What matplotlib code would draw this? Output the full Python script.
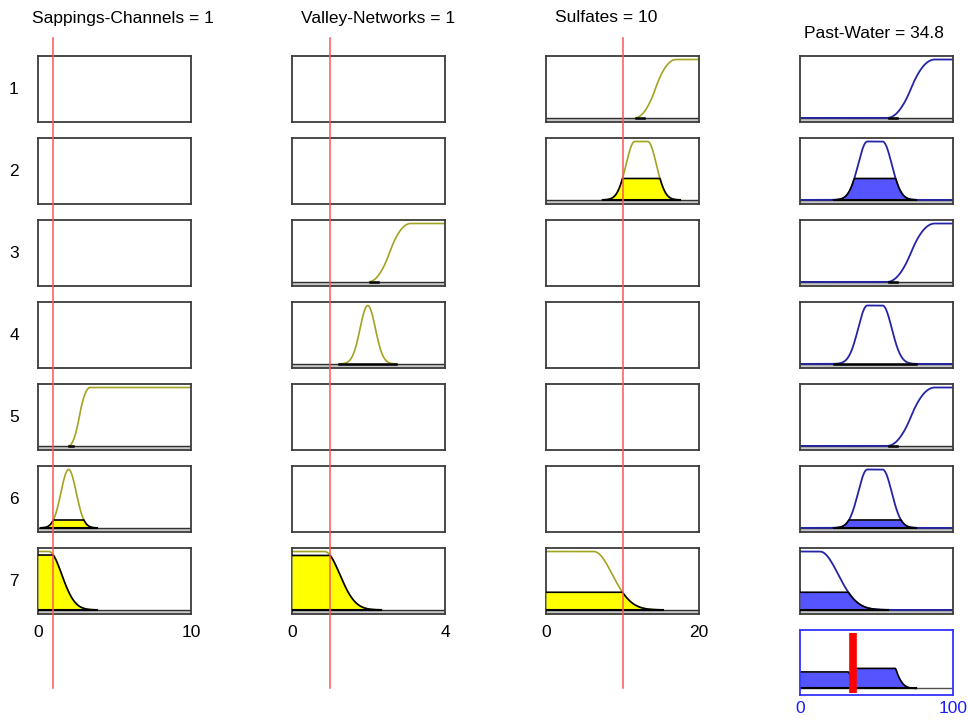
import numpy as np
import matplotlib
matplotlib.use('Agg')
import matplotlib.pyplot as plt
from matplotlib.lines import Line2D
from matplotlib.transforms import blended_transform_factory

plt.rcParams['font.family'] = ['Liberation Sans', 'DejaVu Sans']

# fuzzy system
input_names = ['Sappings-Channels', 'Valley-Networks', 'Sulfates']
input_values = [1, 1, 10]
input_ranges = [(0, 10), (0, 4), (0, 20)]
output_name = 'Past-Water'
output_value = 34.8
output_range = (0, 100)

# membership functions per rule (None = input not used in that rule)
# ('smf', a, b) or ('gauss2', sigma1, c1, sigma2, c2)
sapping_mfs = [None, None, None, None,
               ('smf', 2.0, 3.4),
               ('gauss2', 0.5, 2.0, 0.5, 2.0),
               ('gauss2', 0.85, 0.0, 0.85, 0.7)]
valley_mfs = [None, None,
              ('smf', 2.0, 3.1),
              ('gauss2', 0.2, 1.98, 0.2, 1.98),
              None, None,
              ('gauss2', 0.4, 0.0, 0.4, 0.85)]
sulfate_mfs = [('smf', 11.6, 17.0),
               ('gauss2', 1.13, 11.6, 1.13, 13.3),
               None, None, None, None,
               ('gauss2', 2.43, 0.0, 2.43, 6.24)]
water_high = ('smf', 57.0, 88.0)
water_med = ('gauss2', 6.0, 44.0, 6.0, 54.0)
water_low = ('gauss2', 12.0, 0.0, 12.0, 13.0)
water_mfs = [water_high, water_med, water_high, water_med,
             water_high, water_med, water_low]

OLIVE = '#a3a322'
YELLOW = '#ffff00'
DBLUE = '#2424a8'
LBLUE = '#5555ff'
FRAME = '#3c3c3c'
STRIP = '#c8c8c8'

W, H = 968, 720
fig = plt.figure(figsize=(W / 100, H / 100), dpi=100)

col_x = [38, 292, 546, 800]
box_w, box_h = 153, 66
row_y0, row_step = 56, 82
YLO, YHI = -0.07, 1.06


def px_axes(x, y, w, h):
    return fig.add_axes([x / W, 1 - (y + h) / H, w / W, h / H])


def mf_eval(mf, x):
    if mf[0] == 'smf':
        a, b = mf[1], mf[2]
        t = (x - a) / (b - a)
        m = (a + b) / 2
        return np.where(x <= a, 0.0,
                        np.where(x <= m, 2 * t ** 2,
                                 np.where(x <= b, 1 - 2 * (1 - t) ** 2, 1.0)))
    s1, c1, s2, c2 = mf[1:]
    y = np.ones_like(x)
    y = np.where(x < c1, np.exp(-(x - c1) ** 2 / (2 * s1 ** 2)), y)
    y = np.where(x > c2, np.exp(-(x - c2) ** 2 / (2 * s2 ** 2)), y)
    return y


def frame(ax, lo, hi, ylo, yhi, color=FRAME):
    ax.set_xlim(lo, hi)
    ax.set_ylim(ylo, yhi)
    ax.set_xticks([])
    ax.set_yticks([])
    for s in ax.spines.values():
        s.set_color(color)
        s.set_linewidth(1.3)


def draw_panel(ax, mf, lo, hi, level, line_col, fill_col, output=False):
    frame(ax, lo, hi, YLO, YHI)
    if mf is None:
        return
    x = np.linspace(lo, hi, 301)
    y = mf_eval(mf, x)
    on = y > 1e-3
    ax.axhspan(YLO, 0, color=STRIP, lw=0, zorder=0)
    ax.axhline(0, color='#303030', lw=1.0, zorder=1)
    if output:
        ax.plot(x, y, color=line_col, lw=1.3, zorder=2)
    else:
        ax.plot(x[on], y[on], color=line_col, lw=1.2, zorder=2)
    if level > 1e-3:
        yc = np.minimum(y, level)
        ax.fill_between(x[on], 0, yc[on], color=fill_col, lw=0, zorder=3)
        ax.plot(x[on], yc[on], color='k', lw=1.2, zorder=4)
        ax.plot([x[on][0], x[on][-1]], [0, 0], color='k', lw=1.5, zorder=4)
    else:
        foot = (y > 1e-3) & (y < 0.1)
        ax.plot([x[foot].min(), x[foot].max()], [0, 0], color='k', lw=1.8,
                zorder=4)


# membership degree of each input in each rule, and rule firing (AND = min)
all_inputs = [sapping_mfs, valley_mfs, sulfate_mfs]
n_rules = len(water_mfs)
degrees = [[mf_eval(mfs[r], np.array([v]))[0] if mfs[r] is not None else None
            for r in range(n_rules)]
           for mfs, v in zip(all_inputs, input_values)]
levels = [min(d[r] for d in degrees if d[r] is not None) for r in range(n_rules)]

# input columns
for c, (mfs, (lo, hi)) in enumerate(zip(all_inputs, input_ranges)):
    for r in range(n_rules):
        ax = px_axes(col_x[c], row_y0 + r * row_step, box_w, box_h)
        draw_panel(ax, mfs[r], lo, hi, degrees[c][r] or 0, OLIVE, YELLOW)
        if r == n_rules - 1:
            ax.set_xticks([lo, hi])
            ax.set_xticklabels([str(lo), str(hi)])
            ax.tick_params(length=0, pad=8, labelsize=12.5)
            # red line for the input value
            tr = blended_transform_factory(ax.transData, fig.transFigure)
            fig.add_artist(Line2D([input_values[c]] * 2, [1 - 38 / H, 1 - 688 / H],
                                  transform=tr, color='#ff5555', lw=1.1))

# output column
olo, ohi = output_range
for r in range(n_rules):
    ax = px_axes(col_x[3], row_y0 + r * row_step, box_w, box_h)
    draw_panel(ax, water_mfs[r], olo, ohi, levels[r], DBLUE, LBLUE, output=True)

# aggregated output
ax = px_axes(col_x[3], 630, box_w, 65)
frame(ax, olo, ohi, -0.12, 1.07, color='#3333ff')
xo = np.linspace(olo, ohi, 301)
agg = np.zeros_like(xo)
for mf, lv in zip(water_mfs, levels):
    agg = np.maximum(agg, np.minimum(mf_eval(mf, xo), lv))
on = agg > 1e-3
ax.axhline(0, color='#505050', lw=1.0)
ax.fill_between(xo[on], 0, agg[on], color=LBLUE, lw=0)
ax.plot(xo[on], agg[on], color='k', lw=1.2)
ax.plot([xo[on][0], xo[on][-1]], [0, 0], color='k', lw=1.5)
ax.plot([output_value] * 2, [-0.08, 1.02], color='#ff0000', lw=5.5,
        solid_capstyle='butt')
ax.set_xticks([olo, ohi])
ax.set_xticklabels([str(olo), str(ohi)])
ax.tick_params(length=0, pad=4, labelsize=12.5, labelcolor='#1a1aff')

# titles
title_x = [123, 378, 606, 874]
title_y = [18, 18, 18, 34]
names = input_names + [output_name]
values = input_values + [output_value]
for name, v, tx, ty in zip(names, values, title_x, title_y):
    fig.text(tx / W, 1 - ty / H, '%s = %g' % (name, v), ha='center',
             va='center', fontsize=12.5)

# rule numbers
for r in range(n_rules):
    fig.text(14 / W, 1 - (row_y0 + r * row_step + 33) / H, str(r + 1),
             ha='center', va='center', fontsize=12.5)

fig.savefig('out.png', dpi=100)
